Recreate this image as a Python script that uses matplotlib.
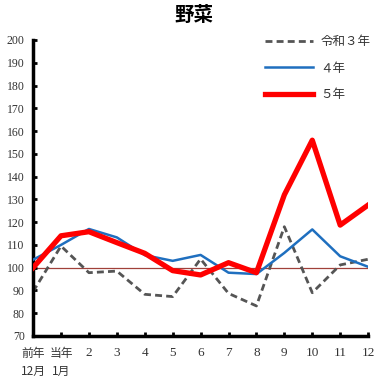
import matplotlib
matplotlib.use("Agg")
import matplotlib.pyplot as plt

categories = ["前年\n12月", "当年\n1月", "2", "3", "4", "5", "6", "7", "8", "9", "10", "11", "12"]
r3 = [89.5, 109.5, 97.8, 98.5, 88.3, 87.3, 103.8, 88.7, 83.2, 118, 89, 101.2, 103.7]
r4 = [103.5, 110, 117, 113.3, 105.5, 103, 105.6, 97.8, 97.2, 106.5, 116.8, 105, 100.4]
r5 = [100, 114, 115.8, 111, 106.3, 98.7, 96.8, 102.2, 97.8, 132, 156, 118.7, 127.5]
series_labels = ["令和３年", "４年", "５年"]
yticks = list(range(70, 201, 10))

plt.rcParams['font.family'] = ['Liberation Serif', 'Noto Sans CJK JP']

fig = plt.figure(figsize=(3.76, 3.79), dpi=100)
ax = fig.add_axes([0.088, 0.1135, 0.891, 0.781])
x = list(range(len(categories)))

ax.axhline(100, color="#a0403a", lw=0.9, zorder=1)
ax.plot(x, r3, color="#555555", lw=2.0, ls=(0, (2.5, 1.5)), label=series_labels[0], zorder=2)
ax.plot(x, r4, color="#1f6fbf", lw=1.8, label=series_labels[1], zorder=3)
ax.plot(x, r5, color="#ff0000", lw=3.8, label=series_labels[2], zorder=4)

ax.set_xlim(0, 12)
ax.set_ylim(70, 200)
ax.set_yticks(yticks)
ax.set_xticks(x)
ax.set_xticklabels(categories, fontsize=8.5, color="#333333", family=['Noto Sans CJK JP'], linespacing=1.45)
for lbl in ax.get_xticklabels()[2:]:
    lbl.set_family(['Liberation Serif'])
    lbl.set_fontsize(9.5)
ax.tick_params(axis='y', labelsize=8.5, labelcolor="#333333", direction='in', length=3, width=2, pad=6)
ax.tick_params(axis='x', direction='in', length=3, width=2, pad=8)
for lbl in ax.get_xticklabels():
    lbl.set_verticalalignment('top')
ax.spines['top'].set_visible(False)
ax.spines['right'].set_visible(False)
ax.spines['left'].set_linewidth(2.5)
ax.spines['bottom'].set_linewidth(2.5)

leg = ax.legend(loc='upper right', bbox_to_anchor=(1.04, 1.055), frameon=False,
                handlelength=3.8, labelspacing=1.1, handletextpad=0.6,
                prop={'family': ['Noto Sans CJK JP'], 'size': 9})
for t in leg.get_texts():
    t.set_color("#333333")

fig.text(0.515, 0.958, "野菜", ha='center', va='center', fontsize=14, fontweight='bold',
         family=['Noto Sans CJK JP'])

fig.savefig("out.png", dpi=100)
